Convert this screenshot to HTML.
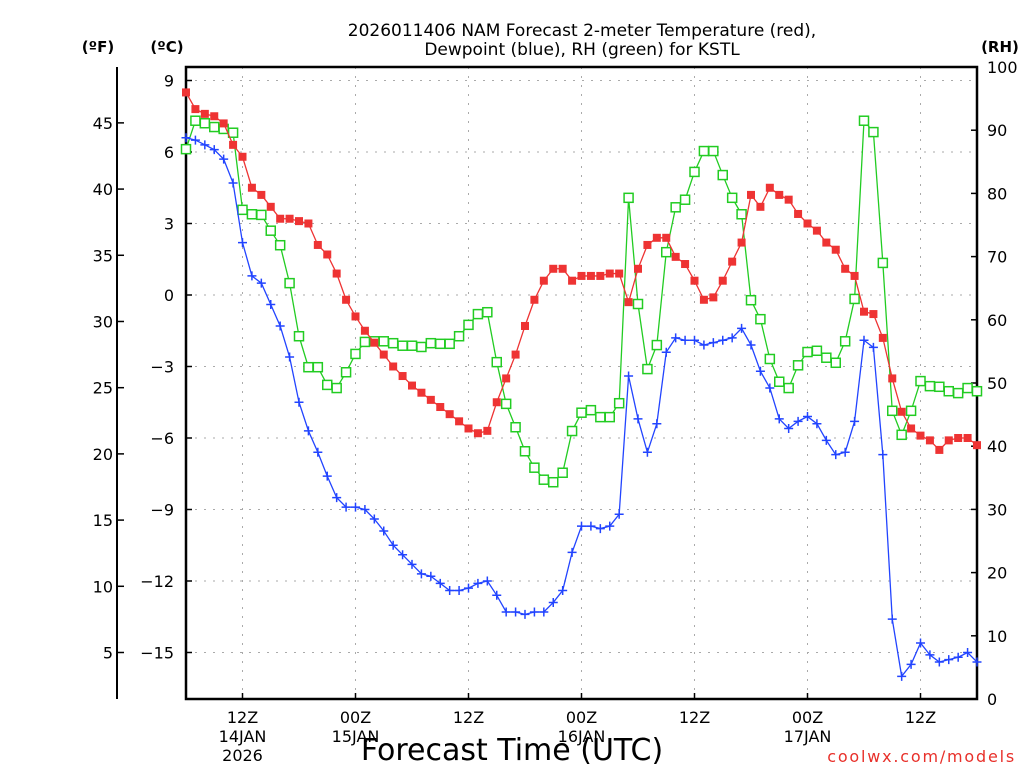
<!DOCTYPE html>
<html><head><meta charset="utf-8"><style>
body{margin:0;background:#fff;}
svg{display:block;font-family:"DejaVu Sans","Liberation Sans",sans-serif;}
</style></head><body>
<svg id="chart" width="1024" height="768" viewBox="0 0 1024 768" xmlns="http://www.w3.org/2000/svg">
<text x="582" y="36" font-size="17" text-anchor="middle">2026011406 NAM Forecast 2-meter Temperature (red),</text>
<text x="582" y="55" font-size="17" text-anchor="middle">Dewpoint (blue), RH (green) for KSTL</text>
<text x="98" y="52" font-size="15" font-weight="bold" text-anchor="middle">(ºF)</text>
<text x="167" y="52" font-size="15" font-weight="bold" text-anchor="middle">(ºC)</text>
<text x="1000" y="52" font-size="15" font-weight="bold" text-anchor="middle">(RH)</text>
<text x="512" y="760" font-size="30" text-anchor="middle">Forecast Time (UTC)</text>
<text x="1016" y="762" font-size="16" fill="#e8302a" text-anchor="end" letter-spacing="1.8">coolwx.com/models</text>
<g id="grid"></g><g id="axes"></g><g id="series"></g>
</svg>
<script>
const hours = Array.from({length:85},(_,i)=>i); // forecast hours from 06Z 14JAN
const tempC = [8.5,7.8,7.6,7.5,7.2,6.3,5.8,4.5,4.2,3.7,3.2,3.2,3.1,3.0,2.1,1.7,0.9,-0.2,-0.9,-1.5,-2.0,-2.5,-3.0,-3.4,-3.8,-4.1,-4.4,-4.7,-5.0,-5.3,-5.6,-5.8,-5.7,-4.5,-3.5,-2.5,-1.3,-0.2,0.6,1.1,1.1,0.6,0.8,0.8,0.8,0.9,0.9,-0.3,1.1,2.1,2.4,2.4,1.6,1.3,0.6,-0.2,-0.1,0.6,1.4,2.2,4.2,3.7,4.5,4.2,4.0,3.4,3.0,2.7,2.2,1.9,1.1,0.8,-0.7,-0.8,-1.8,-3.5,-4.9,-5.6,-5.9,-6.1,-6.5,-6.1,-6.0,-6.0,-6.3];
const dewC = [6.6,6.5,6.3,6.1,5.7,4.7,2.2,0.8,0.5,-0.4,-1.3,-2.6,-4.5,-5.7,-6.6,-7.6,-8.5,-8.9,-8.9,-9.0,-9.4,-9.9,-10.5,-10.9,-11.3,-11.7,-11.8,-12.1,-12.4,-12.4,-12.3,-12.1,-12.0,-12.6,-13.3,-13.3,-13.4,-13.3,-13.3,-12.9,-12.4,-10.8,-9.7,-9.7,-9.8,-9.7,-9.2,-3.4,-5.2,-6.6,-5.4,-2.4,-1.8,-1.9,-1.9,-2.1,-2.0,-1.9,-1.8,-1.4,-2.1,-3.2,-3.9,-5.2,-5.6,-5.3,-5.1,-5.4,-6.1,-6.7,-6.6,-5.3,-1.9,-2.2,-6.7,-13.6,-16.0,-15.5,-14.6,-15.1,-15.4,-15.3,-15.2,-15.0,-15.4];
const rh = [87.0,91.5,91.1,90.5,90.2,89.6,77.4,76.7,76.6,74.1,71.8,65.8,57.4,52.5,52.5,49.7,49.2,51.7,54.6,56.5,56.6,56.6,56.3,55.9,55.9,55.7,56.3,56.2,56.2,57.4,59.2,60.9,61.2,53.3,46.7,43.0,39.2,36.6,34.7,34.3,35.8,42.4,45.3,45.7,44.6,44.6,46.8,79.3,62.5,52.2,56.0,70.7,77.8,79.0,83.4,86.7,86.7,82.9,79.3,76.7,63.1,60.1,53.8,50.2,49.2,52.8,54.9,55.1,54.0,53.2,56.6,63.3,91.5,89.7,69.0,45.6,41.8,45.6,50.3,49.5,49.4,48.7,48.4,49.2,48.7];
const cTicks = [9,6,3,0,-3,-6,-9,-12,-15];
const fTicks = [45,40,35,30,25,20,15,10,5];
const rhTicks = [0,10,20,30,40,50,60,70,80,90,100];
const xTickHours = [6,18,30,42,54,66,78];
const xTickLabels = [["12Z","14JAN","2026"],["00Z","15JAN"],["12Z"],["00Z","16JAN"],["12Z"],["00Z","17JAN"],["12Z"]];

const L=186,R=977,T=67,B=699;
const xS=h=>L+(R-L)*h/84;
const yC=c=>295-c*23.833;
const yF=f=>yC((f-32)*5/9);
const yRH=r=>B-(B-T)*r/100;
const NS="http://www.w3.org/2000/svg";
function mk(tag,attrs,parent,text){const e=document.createElementNS(NS,tag);for(const k in attrs)e.setAttribute(k,attrs[k]);if(text!==undefined)e.textContent=text;parent.appendChild(e);return e;}
const grid=document.getElementById('grid'),axes=document.getElementById('axes'),ser=document.getElementById('series');

cTicks.forEach(c=>{const y=yC(c);
 const g=mk('line',{x1:L,x2:R,y1:y,y2:y,stroke:'#aaa','stroke-dasharray':'2,7'},grid);
 
 const t=mk('line',{x1:L,x2:L+6,y1:y,y2:y,stroke:'#000','stroke-width':1.5},axes);
 
 const l=mk('text',{x:174,y:y+6,'font-size':16,'text-anchor':'end'},axes,c<0?'\u2212'+(-c):String(c));
 });
xTickHours.forEach((h,i)=>{const x=xS(h);
 const g=mk('line',{x1:x,x2:x,y1:T,y2:B,stroke:'#aaa','stroke-dasharray':'2,7'},grid);
 
 const t=mk('line',{x1:x,x2:x,y1:B,y2:B-6,stroke:'#000','stroke-width':1.5},axes);
 
 xTickLabels[i].forEach((s,j)=>{const l=mk('text',{x:x,y:723+j*19,'font-size':16,'text-anchor':'middle'},axes,s);
  });});
fTicks.forEach(f=>{const y=yF(f);
 const t=mk('line',{x1:117,x2:124,y1:y,y2:y,stroke:'#000','stroke-width':1.5},axes);
 
 const l=mk('text',{x:113,y:y+6,'font-size':16,'text-anchor':'end'},axes,String(f));
 });
rhTicks.forEach(r=>{const y=yRH(r);
 const t=mk('line',{x1:R-6,x2:R,y1:y,y2:y,stroke:'#000','stroke-width':1.5},axes);
 
 const l=mk('text',{x:987,y:y+6,'font-size':16},axes,String(r));
 });
const fl=mk('line',{x1:117,x2:117,y1:67,y2:699,stroke:'#000','stroke-width':2},axes);


const fr=mk('rect',{x:L,y:T,width:R-L,height:B-T,fill:'none',stroke:'#000','stroke-width':2.5},axes);



function series(vals,ys,color,kind,name){
 const pts=vals.map((v,i)=>[xS(hours[i]),ys(v)]);
 const pl=mk('polyline',{points:pts.map(p=>p.join(',')).join(' '),fill:'none',stroke:color,'stroke-width':1.3},ser);
 
 
 pts.forEach(([x,y])=>{let m;
  if(kind==='fill'){m=mk('rect',{x:x-4,y:y-4,width:8,height:8,fill:color},ser);}
  else if(kind==='open'){m=mk('rect',{x:x-4.5,y:y-4.5,width:9,height:9,fill:'#fff',stroke:color,'stroke-width':1.5},ser);}
  else {m=mk('path',{d:`M${x-4.5},${y}H${x+4.5}M${x},${y-4.5}V${y+4.5}`,stroke:color,'stroke-width':1.5},ser);}
  
  });
}
series(rh,yRH,'#22cc22','open','rh');
series(tempC,yC,'#ee3333','fill','temperature');
series(dewC,yC,'#2244ff','plus','dewpoint');
</script>
</body></html>
